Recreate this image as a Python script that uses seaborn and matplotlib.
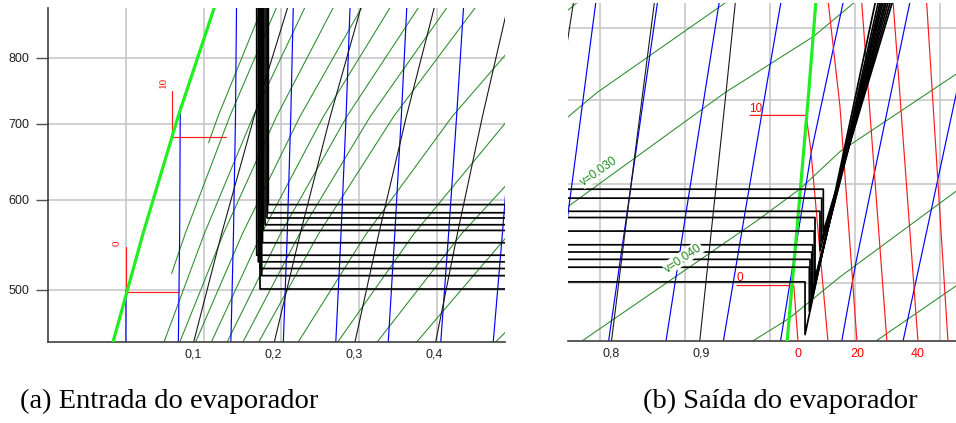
import numpy as np
import pandas as pd
import matplotlib
matplotlib.use("Agg")
import matplotlib.pyplot as plt
from matplotlib.ticker import NullLocator
import seaborn as sns

sns.set_theme(style="white")
plt.rcParams['font.family'] = ['Liberation Sans', 'DejaVu Sans']
plt.rcParams['text.color'] = 'black'

# ---------------- data (R22 log p-h chart, h in kJ/kg, p in kPa) ----------------
P_LEV = [440, 560, 710, 900]

sat_liq_h = [195.86, 204.36, 213.41, 223.44]
sat_vap_h = [403.8, 406.5, 409.1, 411.5]

quality_labels = ["0,1", "0,2", "0,3", "0,4", "0,7", "0,8", "0,9"]
quality_h = [
    [216.67, 224.59, 232.99, 242.26],
    [237.49, 244.82, 252.57, 261.07],
    [258.30, 265.05, 272.16, 279.89],
    [279.12, 285.28, 291.74, 298.70],
    [341.56, 345.97, 350.48, 355.15],
    [362.37, 366.20, 370.07, 373.97],
    [383.19, 386.43, 389.65, 392.78],
]

isentrope_s = [1.00, 1.05, 1.10, 1.15, 1.20, 1.25, 1.30, 1.35,
               1.55, 1.60, 1.65, 1.70, 1.75, 1.80, 1.85]
isentrope_p = [
    [440, 500], [440, 560, 710, 725],
    P_LEV, P_LEV, P_LEV, P_LEV, P_LEV, P_LEV,
    P_LEV, P_LEV, P_LEV, P_LEV,
    [440, 520, 638.8, 837.2, 900],
    [440, 518.8, 666.4, 900],
    [440, 900],
]
isentrope_h = [
    [199.97, 200.0], [213.44, 213.81, 213.95, 213.98],
    [226.92, 227.66, 228.18, 228.46], [240.39, 241.50, 242.41, 243.10],
    [253.86, 255.34, 256.64, 257.74], [267.33, 269.18, 270.86, 272.38],
    [280.81, 283.03, 285.09, 287.01], [294.28, 296.87, 299.32, 301.65],
    [348.17, 352.24, 356.23, 360.20], [361.64, 366.08, 370.46, 374.84],
    [375.11, 379.92, 384.69, 389.48], [388.58, 393.77, 398.92, 404.12],
    [402.05, 405.5, 409.81, 417.18, 419.16],
    [416.4, 420.2, 426.8, 434.8],
    [430.73, 450.4],
]

isochore_v = [0.0025, 0.003, 0.004, 0.005, 0.006, 0.007, 0.008, 0.009, 0.010,
              0.0125, 0.015, 0.0175, 0.020, 0.025, 0.030, 0.040, 0.050, 0.060]
isochore_p = [
    [673.6, 710, 900], [516.8, 560, 710, 900],
    P_LEV, P_LEV, P_LEV, P_LEV, P_LEV, P_LEV, P_LEV,
    P_LEV, P_LEV, P_LEV, P_LEV, P_LEV,
    [440, 560, 710, 787.3, 836.8, 900],
    [440, 560, 595, 636.8, 733.4, 800],
    [440, 468.4, 505.6, 589.8, 700],
    [440, 451.6, 496.6, 600],
]
isochore_h = [
    [221.27, 223.67, 235.94], [211.73, 215.22, 226.69, 239.64],
    [208.71, 220.13, 232.71, 247.05], [212.69, 225.03, 238.74, 254.46],
    [216.67, 229.94, 244.77, 261.87], [220.64, 234.84, 250.80, 269.28],
    [224.62, 239.75, 256.83, 276.69], [228.60, 244.65, 262.86, 284.10],
    [232.57, 249.56, 268.89, 291.51], [242.51, 261.82, 283.96, 310.03],
    [252.46, 274.08, 299.03, 328.55], [262.40, 286.34, 314.10, 347.07],
    [272.34, 298.61, 329.18, 365.59], [292.22, 323.13, 359.32, 402.63],
    [312.10, 347.65, 389.46, 410.26, 419.6, 430.6],
    [351.87, 396.70, 407.2, 416.47, 443.53, 460.2],
    [391.64, 404.5, 416.47, 443.13, 472.7],
    [421.1, 425.88, 443.53, 478.5],
]

isotherm_T = [0, 10, 20, 30, 40, 50]
isotherm_p = [
    [497.6, 497.6, 448.5, 440],
    [680.7, 680.7, 638.8, 448.5, 440],
    [440, 448.5, 691.5, 837.2, 900],
    [440, 900], [440, 900], [440, 900],
]
isotherm_h = [
    [392.2, 405.6, 406.59, 406.8],
    [395.29, 408.5, 409.6, 413.65, 413.9],
    [420.6, 420.47, 416.47, 413.72, 413.2],
    [427.7, 420.9], [435.0, 428.3], [442.03, 436.28],
]

# red isotherm marks in the liquid/two-phase part of panel (a)
mark_a_h = [[200.0, 200.0, 213.64], [211.9, 211.9, 225.74]]
mark_a_p = [[545.4, 497.6, 497.6], [747.4, 680.7, 680.7]]

# refrigeration cycles
p_cond = 950
cycle_p_evap = [594.2, 584.5, 578.3, 570.5, 564.0, 550.1, 536.4, 529.3, 522.2, 514.7, 501.0]
cycle_h_in = [236.63, 236.42, 236.22, 235.78, 235.34, 235.13, 233.64, 234.05, 234.49, 234.93, 234.49]
cycle_h_out = [412.54, 412.16, 320.0, 411.76, 410.59, 410.42, 410.05, 409.81, 409.41, 409.25, 408.24]
cycle_p_suc = [549.2, 540.2, np.nan, 530.7, 504.0, 500.4, 492.1, 486.9, 478.3, 474.7, 454.6]
cycle_h_dis = [431.5, 430.9, np.nan, 430.3, 429.7, 429.3, 428.8, 428.4, 428.0, 427.5, 426.7]
p_dis = 900

grid_h = [200, 220, 240, 260, 280, 360, 380, 400, 420, 440]
grid_p = [500, 600, 700, 800]

ticks_a_h = [217.17, 237.79, 258.69, 279.36]
ticks_a_lab = ["0,1", "0,2", "0,3", "0,4"]
ticks_b_h = [362.71, 383.69, 406.59, 420.47, 434.82]
ticks_b_lab = ["0,8", "0,9", "0", "20", "40"]
ticks_b_col = ["black", "black", "red", "red", "red"]


# ---------------- helpers ----------------
def lines_df(h_lists, p_lists):
    rows = []
    for i, (hs, ps) in enumerate(zip(h_lists, p_lists)):
        for k, (h, p) in enumerate(zip(hs, ps)):
            rows.append((i, k, h, p))
    return pd.DataFrame(rows, columns=["line", "k", "h", "p"])


def draw(ax, df, color, lw, z):
    sns.lineplot(data=df, x="h", y="p", units="line", estimator=None, sort=False,
                 color=color, linewidth=lw, ax=ax, legend=False, zorder=z)


cyc_h, cyc_p = [], []
for i in range(len(cycle_p_evap)):
    hs = [cycle_h_in[i], cycle_h_in[i], cycle_h_out[i]]
    ps = [p_cond, cycle_p_evap[i], cycle_p_evap[i]]
    if not np.isnan(cycle_p_suc[i]):
        hs += [cycle_h_out[i], cycle_h_dis[i]]
        ps += [cycle_p_suc[i], p_dis]
    cyc_h.append(hs)
    cyc_p.append(ps)

df_sl = lines_df([sat_liq_h, sat_vap_h], [P_LEV, P_LEV])
df_q = lines_df(quality_h, [P_LEV] * len(quality_h))
df_s = lines_df(isentrope_h, isentrope_p)
df_v = lines_df(isochore_h, isochore_p)
df_T = lines_df(isotherm_h, isotherm_p)
df_cyc = lines_df(cyc_h, cyc_p)
df_mark = lines_df(mark_a_h, mark_a_p)

fig = plt.figure(figsize=(9.56, 4.23), dpi=100)
ax_a = fig.add_axes([0.05021, 0.19149, 0.47803, 0.78960])
ax_b = fig.add_axes([0.59414, 0.19385, 0.40586, 0.79905])

for ax, xlim, ylim in [(ax_a, (179.92, 297.55), (450.1, 884.2)),
                       (ax_b, (352.47, 443.76), (449.3, 837.2))]:
    ax.set_yscale("log")
    for h in grid_h:
        ax.axvline(h, color="#c8c8c8", lw=1.2, zorder=0.5)
    for p in grid_p:
        ax.axhline(p, color="#c8c8c8", lw=1.2, zorder=0.5)
    draw(ax, df_v, "#2a8a2a", 0.75, 2)
    draw(ax, df_s, "#0000ff", 0.85, 2.2)
    draw(ax, df_q, "#1a1a1a", 0.8, 2.4)
    draw(ax, df_T, "#ff1a1a", 0.85, 2.6)
    draw(ax, df_sl, "#22ee22", 2.3, 3)
    draw(ax, df_cyc, "black", 1.25, 4)
    if ax is ax_a:
        draw(ax, df_mark, "#ff1a1a", 0.85, 2.7)
    ax.set_xlim(*xlim)
    ax.set_ylim(*ylim)
    ax.set_xlabel("")
    ax.set_ylabel("")
    ax.yaxis.set_minor_locator(NullLocator())
    ax.xaxis.set_minor_locator(NullLocator())
    for s in ["top", "right"]:
        ax.spines[s].set_visible(False)
    ax.spines["bottom"].set_color("#404040")
    ax.spines["bottom"].set_linewidth(1.2)

# panel (a) specifics
ax_a.text(197.76, 550.1, "0", rotation=90, color="red", fontsize=8,
          family=["Liberation Serif", "DejaVu Serif"], ha="center", va="center", zorder=6)
ax_a.text(209.6, 761.2, "10", rotation=90, color="red", fontsize=8,
          family=["Liberation Serif", "DejaVu Serif"], ha="center", va="center", zorder=6)
ax_a.spines["left"].set_color("#404040")
ax_a.spines["left"].set_linewidth(1.2)
ax_a.set_yticks(grid_p)
ax_a.set_yticklabels([str(p) for p in grid_p])
ax_a.set_xticks(ticks_a_h)
ax_a.set_xticklabels(ticks_a_lab)
ax_a.tick_params(axis="y", length=8.6, width=1, color="#505050", pad=4.9,
                 labelsize=9, labelcolor="#202020", left=True)
ax_a.tick_params(axis="x", length=0, pad=5, labelsize=9, labelcolor="#202020")

# panel (b) specifics
ax_b.spines["left"].set_visible(False)
ax_b.set_yticks([])
ax_b.set_xticks(ticks_b_h)
ax_b.set_xticklabels(ticks_b_lab)
ax_b.tick_params(axis="x", length=0, pad=5, labelsize=9)
for lab, c in zip(ax_b.get_xticklabels(), ticks_b_col):
    lab.set_color(c if c != "black" else "#202020")
ax_b.text(392.16, 501.4, "0", color="red", fontsize=8.5, ha="left", va="baseline", zorder=6)
ax_b.text(395.13, 685.2, "10", color="red", fontsize=8.5, ha="left", va="baseline", zorder=6)
bb = dict(facecolor="white", edgecolor="none", pad=0.6)
ax_b.text(359.76, 614.5, "v=0,030", color="#1a8a1a", fontsize=8.5, rotation=35,
          ha="center", va="center", rotation_mode="anchor", bbox=bb, zorder=6)
ax_b.text(379.53, 523.6, "v=0,040", color="#1a8a1a", fontsize=8.5, rotation=34,
          ha="center", va="center", rotation_mode="anchor", bbox=bb, zorder=6)

serif = ["Liberation Serif", "DejaVu Serif"]
fig.text(169 / 956, 0.0355, "(a) Entrada do evaporador", family=serif, fontsize=20.5,
         ha="center", va="baseline", color="black")
fig.text(780 / 956, 0.0355, "(b) Saída do evaporador", family=serif, fontsize=20.5,
         ha="center", va="baseline", color="black")

fig.savefig("out.png", dpi=100, facecolor="white")
